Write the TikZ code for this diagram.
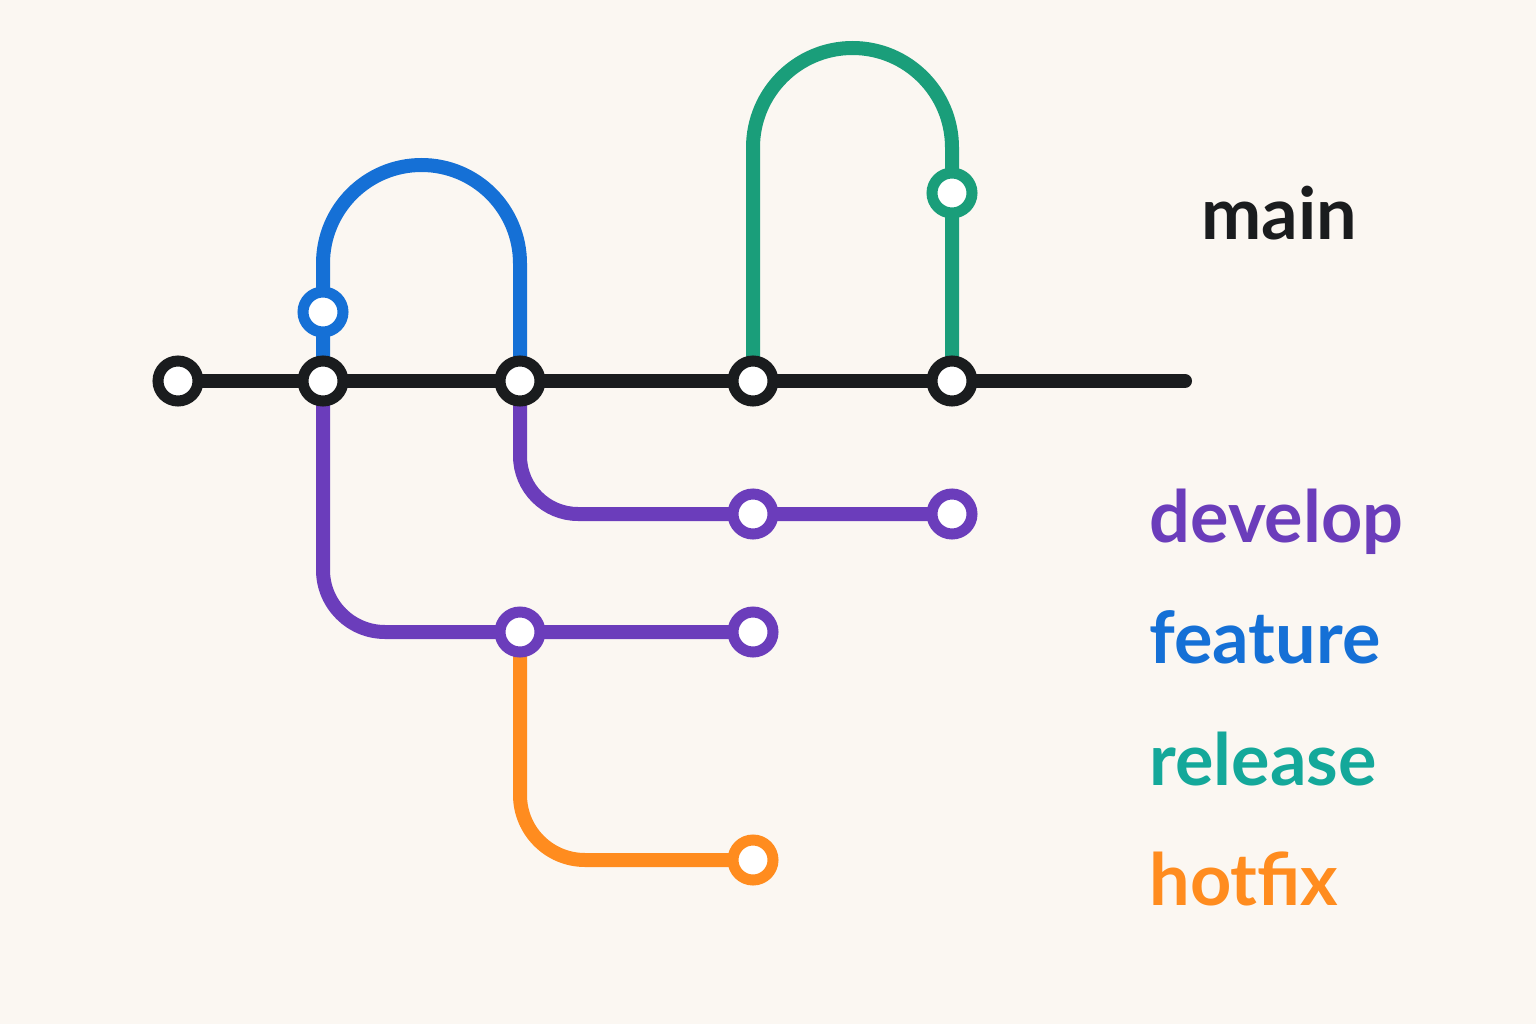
\documentclass[tikz,border=0pt]{standalone}
\usepackage{fontspec}
\setmainfont{Lato}
\usepackage{tikz}
\definecolor{bgpaper}{HTML}{FBF7F2}
\definecolor{mainc}{HTML}{1A1C1E}
\definecolor{featc}{HTML}{1570D6}
\definecolor{relc}{HTML}{1A9E7A}
\definecolor{devc}{HTML}{6B3DBB}
\definecolor{hotc}{HTML}{FF8C1F}
\definecolor{rellab}{HTML}{14A89A}
\tikzset{
  branch/.style={line width=14pt, line cap=round},
  commit/.style={circle, draw=#1, fill=white, line width=11pt, minimum size=40pt, inner sep=0pt},
  lab/.style={font=\fontsize{72}{80}\selectfont\bfseries, anchor=base west}
}
\begin{document}
\begin{tikzpicture}[x=1pt, y=-1pt]
    \fill[bgpaper] (0,0) rectangle (1536,1024);
    \useasboundingbox (0,0) rectangle (1536,1024);

    % commit positions
    \coordinate (m1) at (178,381);
    \coordinate (m2) at (323,381);
    \coordinate (m3) at (520,381);
    \coordinate (m4) at (753,381);
    \coordinate (m5) at (952,381);
    \coordinate (mend) at (1185,381);
    \coordinate (f1) at (323,312);
    \coordinate (r1) at (952,193);
    \coordinate (d1) at (753,514);
    \coordinate (d2) at (952,514);
    \coordinate (d3) at (520,632);
    \coordinate (d4) at (753,632);
    \coordinate (h1) at (753,860);

    % branches
    \draw[branch, featc, rounded corners=98.5pt] (m2) -- (323,165) -- (520,165) -- (m3);
    \draw[branch, relc, rounded corners=99.5pt] (m4) -- (753,48) -- (952,48) -- (m5);
    \draw[branch, devc, rounded corners=62pt] (m2) |- (d4);
    \draw[branch, devc, rounded corners=58pt] (m3) |- (d2);
    \draw[branch, hotc, rounded corners=65pt] (d3) |- (h1);
    \draw[branch, mainc] (m1) -- (mend);

    % commits
    \foreach \c in {m1,m2,m3,m4,m5}
      \node[commit=mainc] at (\c) {};
    \node[commit=featc] at (f1) {};
    \node[commit=relc] at (r1) {};
    \foreach \c in {d1,d2,d3,d4}
      \node[commit=devc] at (\c) {};
    \node[commit=hotc] at (h1) {};

    % legend
    \node[lab, text=mainc] (lmain) at (1198,240) {main};
    \node[lab, text=devc] (ldev) at (1146,542) {develop};
    \node[lab, text=featc] (lfeat) at (1146,663) {feature};
    \node[lab, text=rellab] (lrel) at (1146,785) {release};
    \node[lab, text=hotc] (lhot) at (1146,905) {hotfix};
\end{tikzpicture}
\end{document}
